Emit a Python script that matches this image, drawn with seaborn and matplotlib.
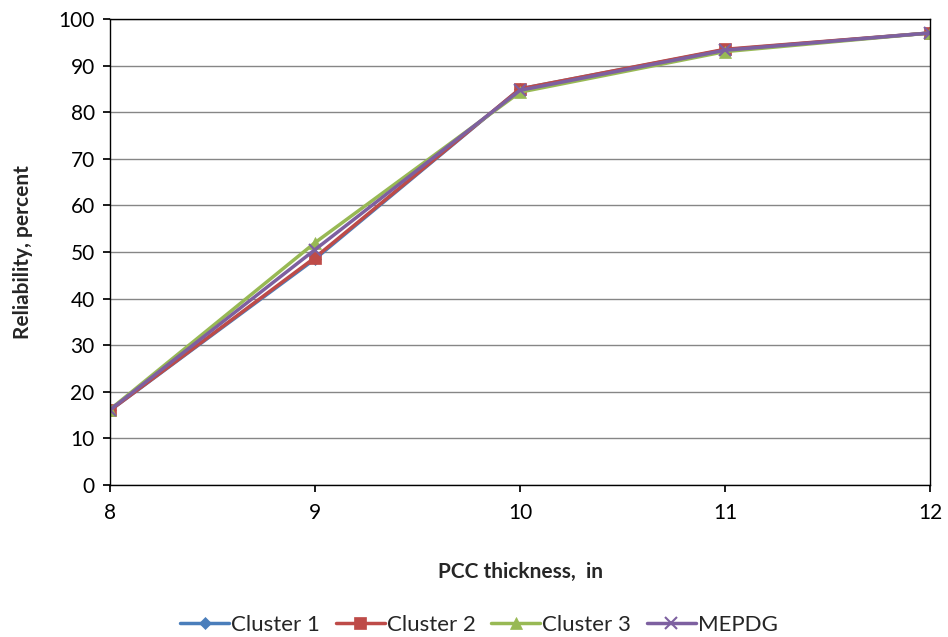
import matplotlib
matplotlib.use("Agg")
import matplotlib.pyplot as plt
import seaborn as sns
import pandas as pd

thickness = [8, 9, 10, 11, 12]
cluster1 = [16.0, 48.5, 85.0, 93.4, 97.0]
cluster2 = [16.0, 48.8, 85.0, 93.5, 97.0]
cluster3 = [16.2, 52.0, 84.3, 93.0, 97.0]
mepdg = [16.1, 50.5, 84.7, 93.3, 97.0]

series_names = ["Cluster 1", "Cluster 2", "Cluster 3", "MEPDG"]
colors = ["#4A7EBB", "#BE4B48", "#98B954", "#7D60A0"]
markers = ["D", "s", "^", "x"]
msizes = [6, 8, 8, 8]

rows = []
for name, vals in zip(series_names, [cluster1, cluster2, cluster3, mepdg]):
    for t, v in zip(thickness, vals):
        rows.append({"thickness": t, "reliability": v, "series": name})
df = pd.DataFrame(rows)

sns.set_theme(style="white")
plt.rcParams['font.family'] = ['Lato', 'DejaVu Sans']

fig = plt.figure(figsize=(9.48, 6.37), dpi=100)
ax = fig.add_axes([110/948, 1 - 485/637, 820/948, 466/637])

for name, c, m, ms in zip(series_names, colors, markers, msizes):
    sub = df[df.series == name]
    sns.lineplot(data=sub, x="thickness", y="reliability", ax=ax, color=c,
                 marker=m, markersize=ms, linewidth=2.5, label=name,
                 markeredgecolor=c, markeredgewidth=1.5 if m == "x" else 0.5)

ax.set_xlim(8, 12)
ax.set_ylim(0, 100)
ax.set_xticks(thickness)
ax.set_yticks(range(0, 101, 10))
ax.tick_params(axis='both', labelsize=15, length=5, direction='out', colors='black')
ax.tick_params(axis='x', bottom=True, pad=8)
ax.tick_params(axis='y', left=True, pad=6)
ax.yaxis.grid(True, color='#868686', linewidth=1)
ax.xaxis.grid(False)
ax.set_axisbelow(True)
for s in ax.spines.values():
    s.set_color('black')
    s.set_linewidth(1)

ax.set_xlabel("PCC thickness,  in", fontsize=15, fontweight='bold', labelpad=28)
ax.set_ylabel("Reliability, percent", fontsize=15, fontweight='bold', labelpad=18)

ax.legend(loc='center', bbox_to_anchor=((479 - 110) / 820, (485 - 625) / 466), ncol=4,
          frameon=False, fontsize=16, handlelength=2.2, handletextpad=0.1,
          columnspacing=0.7, borderaxespad=0, borderpad=0)

fig.savefig("out.png", dpi=100)
